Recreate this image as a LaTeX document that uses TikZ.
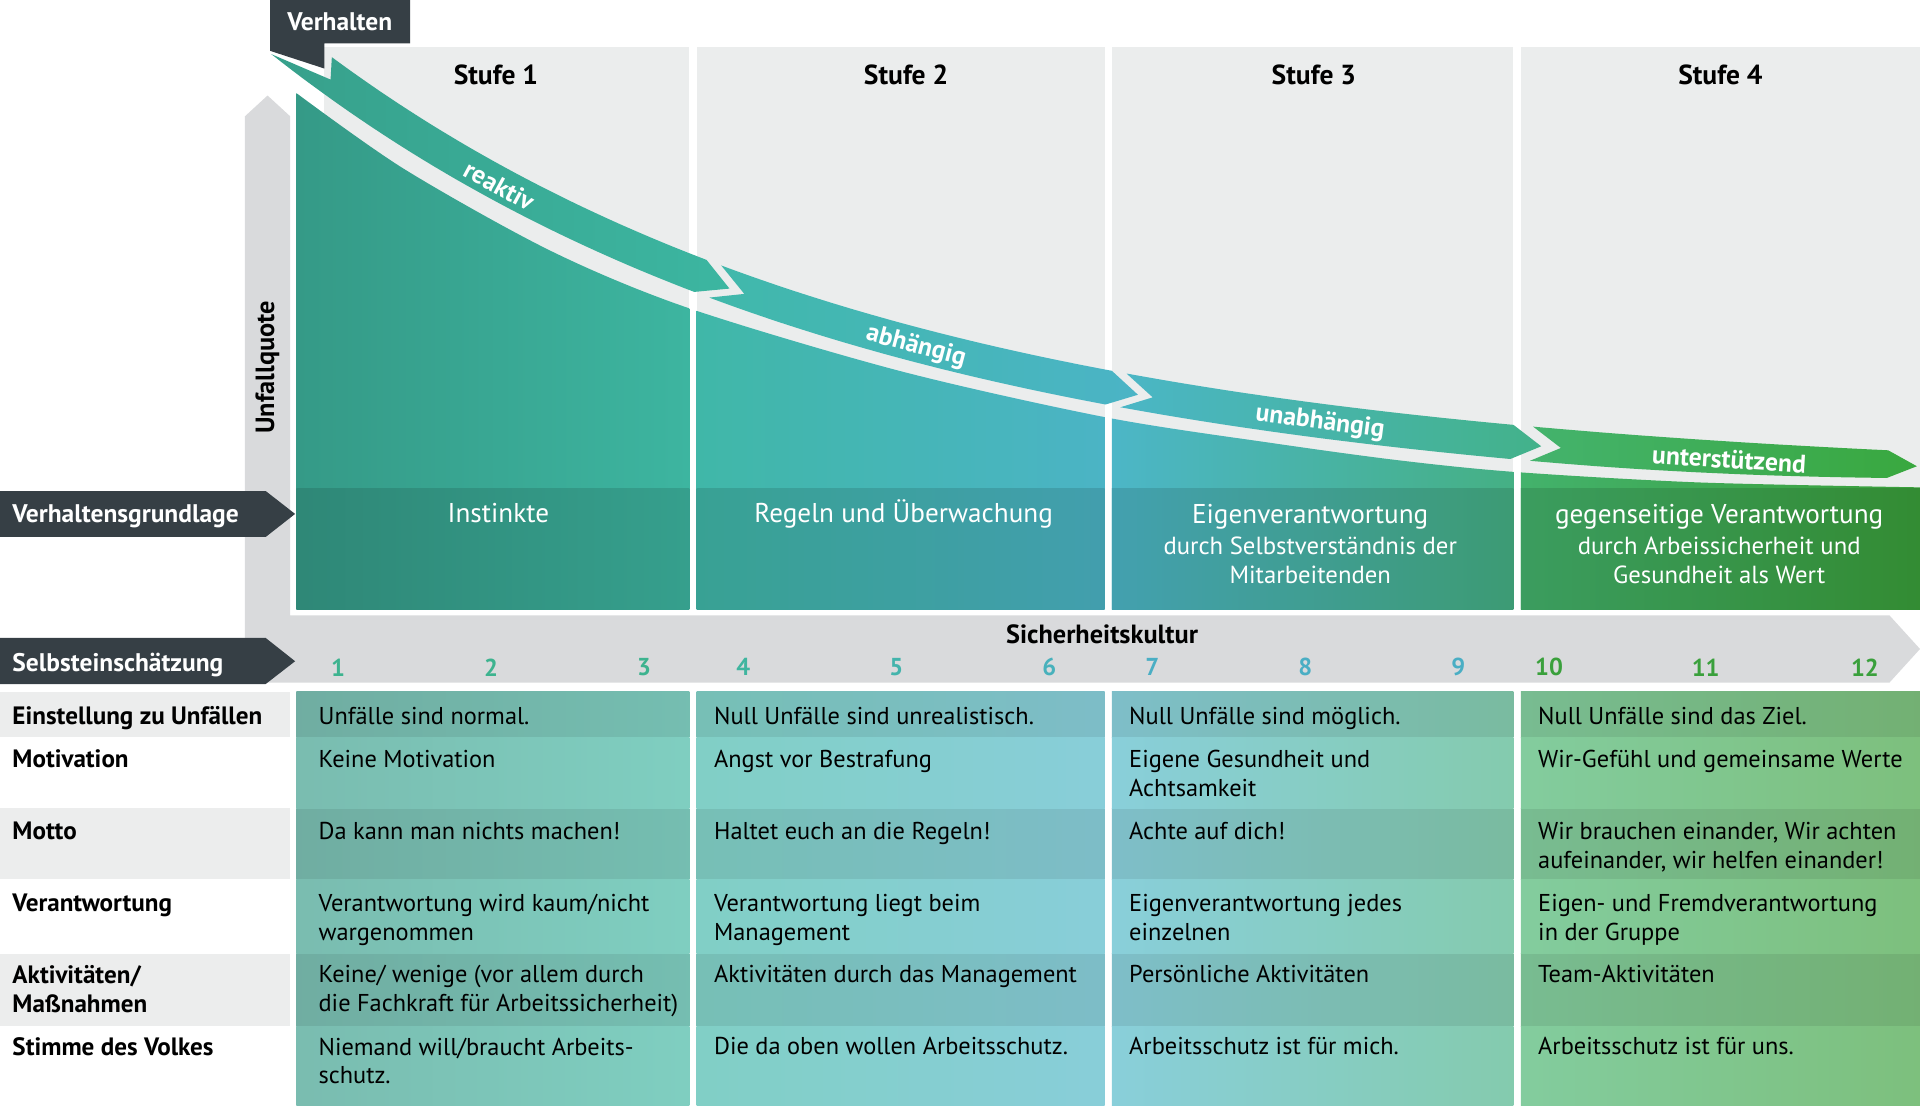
\documentclass[tikz,border=0pt]{standalone}
\usepackage{fontspec}
\setmainfont{PT Sans}
\usetikzlibrary{positioning,calc}

\definecolor{tagdark}{HTML}{363F45}
\definecolor{axisgray}{HTML}{D9DADC}
\definecolor{panelgray}{HTML}{EBEDED}
\definecolor{rowgray}{HTML}{ECEDED}
% column gradients (left / right)
\definecolor{ca1}{HTML}{359A87}\definecolor{cb1}{HTML}{3DB5A0}
\definecolor{ca2}{HTML}{40B7A8}\definecolor{cb2}{HTML}{4BB4C5}
\definecolor{ca3}{HTML}{4CB6C7}\definecolor{cb3}{HTML}{45B084}
\definecolor{ca4}{HTML}{43B26C}\definecolor{cb4}{HTML}{3A9F3A}
% band segments
\definecolor{sa1}{HTML}{37A08B}\definecolor{sb1}{HTML}{3CB6A1}
\definecolor{sa2}{HTML}{40B8AA}\definecolor{sb2}{HTML}{4BB4C6}
\definecolor{sa3}{HTML}{4BB6C6}\definecolor{sb3}{HTML}{43B28A}
\definecolor{sa4}{HTML}{44B36D}\definecolor{sb4}{HTML}{39A83F}
% scale numbers
\definecolor{num1}{HTML}{3DB38F}\definecolor{num2}{HTML}{3FB59F}
\definecolor{num3}{HTML}{43B4AC}\definecolor{num4}{HTML}{48B1BC}
\definecolor{num5}{HTML}{4AAEC4}\definecolor{num6}{HTML}{3AA03C}

\tikzset{
  stufe/.style={font=\bfseries\fontsize{22.5}{26}\selectfont, inner sep=0pt},
  bandlabel/.style={font=\bfseries\fontsize{21}{24}\selectfont, text=white, inner sep=0pt},
  basis/.style={font=\fontsize{20.2}{24}\selectfont, text=white, inner sep=0pt, align=center},
  taglabel/.style={font=\bfseries\fontsize{20.8}{24}\selectfont, text=white, anchor=base west, inner sep=0pt},
  rowlabel/.style={font=\bfseries\fontsize{20.5}{23.5}\selectfont, anchor=north west, align=left, inner sep=0pt},
  celltext/.style={font=\fontsize{19.9}{23.5}\selectfont, anchor=north west, align=left, inner sep=0pt},
  nummer/.style={font=\bfseries\fontsize{20}{22}\selectfont, inner sep=0pt},
  axislabel/.style={font=\bfseries\fontsize{21.5}{24}\selectfont, inner sep=0pt}
}

\begin{document}
\begin{tikzpicture}[x=1pt, y=-1pt,
  declare function={
    yu(\x)=390-344*exp(-0.00215*(\x-270));
    su(\x)=0.7396*exp(-0.00215*(\x-270));
    wb(\x)=28-5.4*(max(0,(\x-1252)/290))^2;
    lx(\x)=\x-wb(\x)*su(\x)/sqrt(1+su(\x)^2);
    ly(\x)=yu(\x)+wb(\x)/sqrt(1+su(\x)^2);
    cx(\x)=\x-0.55*wb(\x)*su(\x)/sqrt(1+su(\x)^2);
    cy(\x)=yu(\x)+0.55*wb(\x)/sqrt(1+su(\x)^2);
  }]
\useasboundingbox (0,0) rectangle (1568,903);

% header panels
\fill[panelgray] (265,38.6) rectangle (563,497.5);
\foreach \xl/\xr in {569/902,908/1236,1242/1568}
  \fill[panelgray] (\xl,38.6) rectangle (\xr,497.5);

% axes
\fill[axisgray] (200,95) -- (218.5,78) -- (237,95) -- (237,502.5) -- (1543,502.5)
  -- (1568,530) -- (1543,557.5) -- (200,557.5) -- cycle;

% area under the curve
\begin{scope}
  \clip plot[smooth] coordinates {(242,76) (330,138) (450,205) (562,251.5) (735,303)
    (904,341) (1040,362) (1143,376) (1238,385.5) (1388,394) (1568,398)}
    -- (1568,497.5) -- (242,497.5) -- cycle;
  \foreach \i/\xl/\xr in {1/242/563,2/569/902,3/908/1236,4/1242/1568}
    \shade[left color=ca\i, right color=cb\i] (\xl,60) rectangle (\xr,497.5);
\end{scope}
% Verhaltensgrundlage row
\foreach \i/\xl/\xr in {1/242/563,2/569/902,3/908/1236,4/1242/1568}
  \shade[left color=ca\i!88!black, right color=cb\i!88!black] (\xl,398.8) rectangle (\xr,497.5);

% band segments
\foreach \ua/\la/\na/\ub/\i in {271/239/279/577/1, 589/589/613/908/2, 920/920/944/1236/3, 1252/1252/1276/1542/4}
  \shade[left color=sa\i, right color=sb\i]
    plot[domain=\ua:\ub, samples=40] (\x,{yu(\x)})
    -- ({cx(\ub+24)},{cy(\ub+24)})
    -- plot[domain=\ub:\la, samples=40] ({lx(\x)},{ly(\x)})
    -- ({cx(\na)},{cy(\na)}) -- cycle;

\node[bandlabel, rotate={-atan(su(415))}] (reaktiv) at ({cx(415)},{cy(415)}) {reaktiv};
\node[bandlabel, rotate={-atan(su(752))}] (abh) at ({cx(752)},{cy(752)}) {abhängig};
\node[bandlabel, rotate={-atan(su(1080))}] (unabh) at ({cx(1080)},{cy(1080)}) {unabhängig};
\node[bandlabel, rotate={-atan(su(1413))}] (unterst) at ({cx(1413)},{cy(1413)}) {unterstützend};

% dark tags
\fill[tagdark] (220.5,0) -- (335,0) -- (335,35.5) -- (265,35.5) -- (265,56) -- (220.5,41.5) -- cycle;
\fill[tagdark] (0,401) -- (217,401) -- (241,419.7) -- (217,438.5) -- (0,438.5) -- cycle;
\fill[tagdark] (0,521) -- (217,521) -- (241,540) -- (217,558.6) -- (0,558.6) -- cycle;
\node[taglabel, anchor=base] (verhalten) at (277.5,25) {Verhalten};
\node[taglabel] (grundlage) at (10,427) {Verhaltensgrundlage};
\node[taglabel] (selbst) at (10,548) {Selbsteinschätzung};

% axis labels
\node[axislabel, rotate=90] (unfall) at (218.5,300) {Unfallquote};
\node[axislabel] (kultur) at (900,518) {Sicherheitskultur};
\foreach \n/\x/\c in {1/276/num1,2/401/num1,3/526/num1,4/607/num2,5/732/num3,6/857/num4,
    7/941/num5,8/1066/num5,9/1191/num5,10/1265/num6,11/1393/num6,12/1523/num6}
  \node[nummer, text=\c] (zahl\n) at (\x,545) {\n};

% stages
\foreach \i/\x in {1/405,2/740,3/1073,4/1405}
  \node[stufe] (stufe\i) at (\x,61) {Stufe \i};
\node[basis, anchor=base] (instinkte) at (407,427) {\fontsize{22.2}{24}\selectfont Instinkte};
\node[basis, anchor=base] (regeln) at (738,427) {\fontsize{22.2}{24}\selectfont Regeln und Überwachung};
\node[basis, anchor=north] (eigen) at (1070,411.5)
  {{\fontsize{22.2}{24}\selectfont Eigenverantwortung}\\[1.5pt]durch Selbstverständnis der\\Mitarbeitenden};
\node[basis, anchor=north] (gegen) at (1404,411.5)
  {{\fontsize{22.2}{24}\selectfont gegenseitige Verantwortung}\\[1.5pt]durch Arbeissicherheit und\\Gesundheit als Wert};

% table background
\foreach \ya/\yb in {565/602,660/718,779/838}
  \fill[rowgray] (0,\ya) rectangle (237,\yb);
\foreach \i/\xl/\xr in {1/242/563,2/569/902,3/908/1236,4/1242/1568}{
  \foreach \ya/\yb in {565/602,660/718,779/838}
    \shade[left color=ca\i!66!white!92!black, right color=cb\i!66!white!92!black] (\xl,\ya) rectangle (\xr,\yb);
  \foreach \ya/\yb in {602/660,718/779,838/903}
    \shade[left color=ca\i!66!white, right color=cb\i!66!white] (\xl,\ya) rectangle (\xr,\yb);
}

% table rows
\node[rowlabel] (leinst) at (10,577) {Einstellung zu Unfällen};
\node[rowlabel] (lmotiv) at (10,612) {Motivation};
\node[rowlabel] (lmotto) at (10,671) {Motto};
\node[rowlabel] (lverant) at (10,730) {Verantwortung};
\node[rowlabel] (laktiv) at (10,788) {Aktivitäten/\\Maßnahmen};
\node[rowlabel] (lstimme) at (10,847) {Stimme des Volkes};

\node[celltext] (einst1) at (260,577.2) {Unfälle sind normal.};
\node[celltext] (einst2) at (583,577.2) {Null Unfälle sind unrealistisch.};
\node[celltext] (einst3) at (922,577.2) {Null Unfälle sind möglich.};
\node[celltext] (einst4) at (1256,577.2) {Null Unfälle sind das Ziel.};

\node[celltext] (motiv1) at (260,612.2) {Keine Motivation};
\node[celltext] (motiv2) at (583,612.2) {Angst vor Bestrafung};
\node[celltext] (motiv3) at (922,612.2) {Eigene Gesundheit und\\Achtsamkeit};
\node[celltext] (motiv4) at (1256,612.2) {Wir-Gefühl und gemeinsame Werte};

\node[celltext] (motto1) at (260,671.2) {Da kann man nichts machen!};
\node[celltext] (motto2) at (583,671.2) {Haltet euch an die Regeln!};
\node[celltext] (motto3) at (922,671.2) {Achte auf dich!};
\node[celltext] (motto4) at (1256,671.2) {Wir brauchen einander, Wir achten\\aufeinander, wir helfen einander!};

\node[celltext] (verant1) at (260,730.2) {Verantwortung wird kaum/nicht\\wargenommen};
\node[celltext] (verant2) at (583,730.2) {Verantwortung liegt beim\\Management};
\node[celltext] (verant3) at (922,730.2) {Eigenverantwortung jedes\\einzelnen};
\node[celltext] (verant4) at (1256,730.2) {Eigen- und Fremdverantwortung\\in der Gruppe};

\node[celltext] (aktiv1) at (260,788.2) {Keine/ wenige (vor allem durch\\die Fachkraft für Arbeitssicherheit)};
\node[celltext] (aktiv2) at (583,788.2) {Aktivitäten durch das Management};
\node[celltext] (aktiv3) at (922,788.2) {Persönliche Aktivitäten};
\node[celltext] (aktiv4) at (1256,788.2) {Team-Aktivitäten};

\node[celltext] (stimme1) at (260,847.2) {Niemand will/braucht Arbeits-\\schutz.};
\node[celltext] (stimme2) at (583,847.2) {Die da oben wollen Arbeitsschutz.};
\node[celltext] (stimme3) at (922,847.2) {Arbeitsschutz ist für mich.};
\node[celltext] (stimme4) at (1256,847.2) {Arbeitsschutz ist für uns.};
\end{tikzpicture}
\end{document}
